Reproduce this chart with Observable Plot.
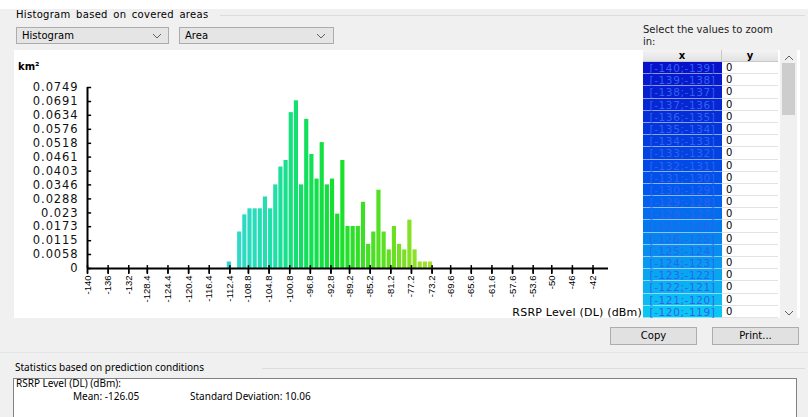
<!DOCTYPE html>
<html>
<head>
<meta charset="utf-8">
<script src="https://cdn.jsdelivr.net/npm/d3@7"></script>
<script src="https://cdn.jsdelivr.net/npm/@observablehq/plot@0.6"></script>
<style>
  html, body { margin: 0; padding: 0; }
  body { width: 808px; height: 417px; overflow: hidden; background: #f0f0f0; position: relative; font-family: "DejaVu Sans", sans-serif; color: #000; }
  .abs { position: absolute; }
  .ui { font-size: 10px; white-space: nowrap; }
  .combo { background: #e5e5e5; border: 1px solid #acacac; box-sizing: border-box; height: 17px; font-size: 10px; line-height: 15px; padding-left: 5px; }
  .btn { background: #e1e1e1; border: 1px solid #adadad; box-sizing: border-box; height: 18px; font-size: 10px; line-height: 16px; text-align: center; }
  .cellx { position: absolute; left: 643px; width: 79px; box-sizing: border-box; border-bottom: 1px solid rgba(255,255,255,0.55); font-size: 10.5px; letter-spacing: 0.6px; text-align: center; color: #2f62f0; }
  .celly { position: absolute; left: 722px; width: 56px; box-sizing: border-box; border-bottom: 1px solid #e3e3e3; background: #fff; font-size: 10px; padding-left: 4px; }
  .stat { font-family: "Noto Sans", sans-serif; font-size: 10px; line-height: 11px; white-space: nowrap; }
  g[aria-label="y-axis tick label"] text { letter-spacing: 0.9px; }
</style>
</head>
<body>
<script>
// ---------- data ----------
const binStart = [-113, -112, -111, -110, -109, -108, -107, -106, -105, -104, -103, -102, -101, -100,
  -99, -98, -97, -96, -95, -94, -93, -92, -91, -90, -89, -88, -87, -86, -85, -84, -83, -82, -81, -80,
  -79, -78, -77, -76, -75, -74];
const areaKm2 = [0.0027, 0, 0.0151, 0.0222, 0.0247, 0.0247, 0.0247, 0.0296, 0.0247, 0.0346, 0.0420, 0.0447, 0.0645, 0.0694,
  0.0346, 0.0617, 0.0472, 0.0370, 0.0521, 0.0346, 0.0370, 0.0225, 0.0447, 0.0174, 0.0174, 0.0174, 0.0274, 0.0100, 0.0151, 0.0324,
  0.0151, 0.0077, 0.0174, 0.0100, 0.0077, 0.0200, 0.0077, 0.0027, 0.0027, 0.0027];
const yTicks = [0, 0.0058, 0.0115, 0.0173, 0.023, 0.0288, 0.0346, 0.0403, 0.0461, 0.0518, 0.0576, 0.0634, 0.0691, 0.0749];
const xTicks = [-140, -136, -132, -128.4, -124.4, -120.4, -116.4, -112.4, -108.8, -104.8, -100.8, -96.8, -92.8,
  -89.2, -85.2, -81.2, -77.2, -73.2, -69.6, -65.6, -61.6, -57.6, -53.6, -50, -46, -42];
const tableBins = [-140, -139, -138, -137, -136, -135, -134, -133, -132, -131, -130, -129, -128, -127, -126, -125, -124, -123, -122, -121, -120];
const tableY = [0, 0, 0, 0, 0, 0, 0, 0, 0, 0, 0, 0, 0, 0, 0, 0, 0, 0, 0, 0, 0];
const colorStops = [-140, -130, -120, -112, -104, -99, -92, -82, -74];
const colorRange = ["#0812c8", "#0058ec", "#0cc6f2", "#34d8cc", "#1ee0a8", "#12e064", "#14e02c", "#62e020", "#a8e030"];
const xDomain = [-140, -39];
const yDomain = [0, 0.0749];

const bars = binStart.map((s, i) => ({start: s, end: s + 1, area: areaKm2[i]}));
const colorOptions = {type: "linear", domain: colorStops, range: colorRange};

function el(cls, style, text) {
  const d = document.createElement("div");
  d.className = "abs " + cls;
  Object.assign(d.style, style);
  if (text != null) d.textContent = text;
  document.body.appendChild(d);
  return d;
}
function chevron(left, top, up) {
  const s = document.createElementNS("http://www.w3.org/2000/svg", "svg");
  s.setAttribute("width", 10); s.setAttribute("height", 6);
  s.style.position = "absolute"; s.style.left = left + "px"; s.style.top = top + "px";
  const p = document.createElementNS("http://www.w3.org/2000/svg", "polyline");
  p.setAttribute("points", up ? "1,5 5,1 9,5" : "1,1 5,5 9,1");
  p.setAttribute("fill", "none"); p.setAttribute("stroke", "#606060"); p.setAttribute("stroke-width", "1");
  s.appendChild(p);
  document.body.appendChild(s);
}

// ---------- window chrome ----------
el("", {left: "0px", top: "0px", width: "808px", height: "9px", background: "#ffffff"});
el("ui", {left: "16px", top: "9px", letterSpacing: "0.3px", wordSpacing: "2px"}, "Histogram based on covered areas");
el("", {left: "220px", top: "15px", width: "585px", height: "1px", background: "#dcdcdc"});
el("combo", {left: "16px", top: "27px", width: "153px"}, "Histogram");
chevron(152, 33, false);
el("combo", {left: "179px", top: "27px", width: "155px"}, "Area");
chevron(316, 33, false);
el("ui", {left: "643px", top: "24px", lineHeight: "12px", color: "#222"}, "Select the values to zoom");
el("ui", {left: "643px", top: "36px", lineHeight: "12px", color: "#222"}, "in:");

// white chart panel
el("", {left: "14px", top: "50px", width: "786px", height: "268px", background: "#ffffff"});

// ---------- chart ----------
const chart = Plot.plot({
  width: 628,
  height: 268,
  marginLeft: 72,
  marginRight: 35,
  marginTop: 37,
  marginBottom: 50,
  style: {background: "transparent", fontFamily: "DejaVu Sans", color: "#000", overflow: "visible"},
  x: {domain: xDomain},
  y: {domain: yDomain},
  color: colorOptions,
  marks: [
    Plot.rectY(bars, {x1: "start", x2: "end", y: "area", fill: "start", insetLeft: 0.5, insetRight: 0.5}),
    Plot.ruleX([xDomain[0]], {stroke: "#000", strokeWidth: 2}),
    Plot.ruleY([0], {stroke: "#000", strokeWidth: 2}),
    Plot.ruleY(yTicks, {x1: xDomain[0], x2: xDomain[0] + 0.8, stroke: "#000", strokeWidth: 1.5}),
    Plot.ruleX(xTicks, {y1: 0.0012, y2: -0.0025, stroke: "#000", strokeWidth: 1.5}),
    Plot.axisY(yTicks, {tickSize: 0, tickPadding: 9, fontSize: 11.5, fill: "#111", label: null, tickFormat: d => String(d)}),
    Plot.axisX(xTicks, {tickSize: 5, tickRotate: -90, tickPadding: 2, fontSize: 9.5, fontFamily: "Liberation Sans", label: null, tickFormat: d => String(d), strokeWidth: 1.5})
  ]
});
chart.style.position = "absolute";
chart.style.left = "15px";
chart.style.top = "50px";
document.body.appendChild(chart);

el("", {left: "18px", top: "61px", fontSize: "10px", fontWeight: "bold"}, "km²");
el("ui", {right: "166px", top: "306px", fontSize: "11px", letterSpacing: "0.2px"}, "RSRP Level (DL) (dBm)");

// ---------- table ----------
const cs = Plot.scale({color: colorOptions});
el("", {left: "643px", top: "50px", width: "79px", height: "12px", background: "linear-gradient(#f4f4f4,#e2e2e2)", borderRight: "1px solid #c8c8c8", borderBottom: "1px solid #c8c8c8", boxSizing: "border-box", fontSize: "10px", fontWeight: "bold", textAlign: "center", lineHeight: "11px"}, "x");
el("", {left: "722px", top: "50px", width: "56px", height: "12px", background: "linear-gradient(#f4f4f4,#e2e2e2)", borderBottom: "1px solid #c8c8c8", boxSizing: "border-box", fontSize: "10px", fontWeight: "bold", textAlign: "center", lineHeight: "11px"}, "y");
const rowH = 256 / tableBins.length;
tableBins.forEach((b, i) => {
  const top = 62 + i * rowH;
  const cx = document.createElement("div");
  cx.className = "cellx";
  Object.assign(cx.style, {top: top + "px", height: rowH + "px", lineHeight: rowH + "px", background: cs.apply(b)});
  cx.textContent = "[" + b + ";" + (b + 1) + "]";
  document.body.appendChild(cx);
  const cy = document.createElement("div");
  cy.className = "celly";
  Object.assign(cy.style, {top: top + "px", height: rowH + "px", lineHeight: rowH + "px"});
  cy.textContent = String(tableY[i]);
  document.body.appendChild(cy);
});
// scrollbar
el("", {left: "780px", top: "50px", width: "17px", height: "268px", background: "#f0f0f0"});
el("", {left: "782px", top: "63px", width: "13px", height: "52px", background: "#cdcdcd"});
chevron(784, 55, true);
chevron(784, 310, false);

// ---------- buttons ----------
el("btn", {left: "610px", top: "327px", width: "87px"}, "Copy");
el("btn", {left: "712px", top: "327px", width: "87px"}, "Print...");

// ---------- statistics group ----------
el("", {left: "0px", top: "352px", width: "808px", height: "1px", background: "#e4e4e4"});
el("stat", {left: "15px", top: "362px"}, "Statistics based on prediction conditions");
el("", {left: "262px", top: "368px", width: "543px", height: "1px", background: "#dcdcdc"});
el("", {left: "13px", top: "378px", width: "784px", height: "60px", background: "#fff", border: "1px solid #828282", boxSizing: "border-box"});
el("stat", {left: "16px", top: "378px"}, "RSRP Level (DL) (dBm):");
el("stat", {left: "73px", top: "391px"}, "Mean: -126.05");
el("stat", {left: "190px", top: "391px"}, "Standard Deviation: 10.06");
</script>
</body>
</html>
